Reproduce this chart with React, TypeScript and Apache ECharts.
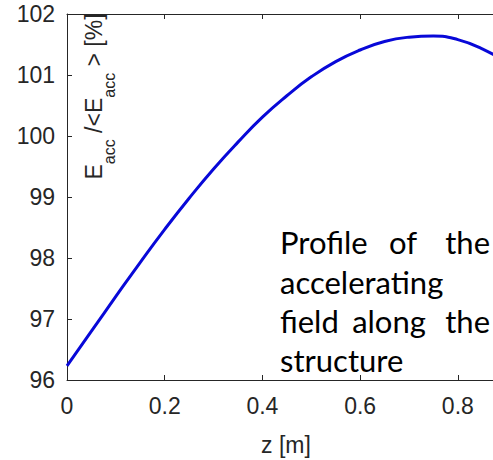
import React, { useEffect, useRef } from 'react';
import * as echarts from 'echarts';

// z position along the structure [m]
const zPositions = [0, 0.05, 0.1, 0.15, 0.2, 0.25, 0.3, 0.35, 0.4, 0.45, 0.5, 0.55, 0.6, 0.65, 0.7, 0.75, 0.8, 0.85, 0.9];
// Eacc / <Eacc> [%]
const fieldRatio = [96.23, 96.8, 97.37, 97.93, 98.47, 98.98, 99.46, 99.9, 100.31, 100.66, 100.97, 101.22, 101.41, 101.55, 101.62, 101.64, 101.58, 101.43, 101.2];

const xAxisMin = 0;
const xAxisMax = 0.872;
const xTickStep = 0.2;
const yAxisMin = 96;
const yAxisMax = 102;
const yTickStep = 1;

const xAxisTitle = 'z [m]';
const noteLines = [
  ['Profile', 'of', 'the'],
  ['accelerating'],
  ['field', 'along', 'the'],
  ['structure'],
];

export default function App() {
  const ref = useRef<HTMLDivElement>(null);
  useEffect(() => {
    const chart = echarts.init(ref.current!, null, { renderer: 'svg' });
    const axisColor = '#262626';
    const axisFont = "'Liberation Sans', Arial, sans-serif";
    const noteFont = "Lato, 'Open Sans', sans-serif";
    const noteBaseY = [242, 282, 320.5, 360];
    const middleCenters = [403, 0, 389, 0];
    const noteElements: any[] = [];
    noteLines.forEach((words, i) => {
      words.forEach((w, j) => {
        let x = 280;
        let align = 'left';
        if (words.length === 3 && j === 1) { x = middleCenters[i]; align = 'center'; }
        if (words.length === 3 && j === 2) { x = 490; align = 'right'; }
        noteElements.push({
          type: 'text',
          x,
          y: noteBaseY[i],
          style: { text: w, font: `31px ${noteFont}`, fill: '#000', align, verticalAlign: 'middle' },
        });
      });
    });

    chart.setOption({
      animation: false,
      backgroundColor: '#fff',
      grid: { left: 67, right: 0, top: 14, bottom: 80, containLabel: false },
      xAxis: [
        {
          type: 'value',
          min: xAxisMin,
          max: xAxisMax,
          interval: xTickStep,
          axisLine: { show: true, lineStyle: { color: axisColor, width: 1 } },
          axisTick: { show: true, inside: true, length: 5, lineStyle: { color: axisColor } },
          axisLabel: { show: true, showMaxLabel: false, margin: 14, color: axisColor, fontSize: 23, fontFamily: axisFont },
          splitLine: { show: false },
        },
        {
          type: 'value',
          position: 'top',
          min: xAxisMin,
          max: xAxisMax,
          interval: xTickStep,
          axisLine: { show: true, onZero: false, lineStyle: { color: axisColor, width: 1 } },
          axisTick: { show: true, inside: true, length: 5, lineStyle: { color: axisColor } },
          axisLabel: { show: false },
          splitLine: { show: false },
        },
      ],
      yAxis: {
        type: 'value',
        min: yAxisMin,
        max: yAxisMax,
        interval: yTickStep,
        axisLine: { show: true, lineStyle: { color: axisColor, width: 1 } },
        axisTick: { show: true, inside: true, length: 5, lineStyle: { color: axisColor } },
        axisLabel: { margin: 12, color: axisColor, fontSize: 23, fontFamily: axisFont },
        splitLine: { show: false },
      },
      series: [
        {
          type: 'line',
          xAxisIndex: 0,
          data: zPositions.map((z, i) => [z, fieldRatio[i]]),
          smooth: true,
          showSymbol: false,
          symbol: 'none',
          clip: true,
          lineStyle: { color: '#0808d8', width: 3 },
        },
      ],
      graphic: [
        {
          type: 'text',
          x: 286,
          y: 445,
          style: { text: xAxisTitle, font: `23px ${axisFont}`, fill: axisColor, align: 'center', verticalAlign: 'middle' },
        },
        {
          type: 'text',
          x: 94,
          y: 96.5,
          rotation: Math.PI / 2,
          style: {
            text: '{m|E}{s|acc}{m| /<E}{s|acc}{m| > [%]}',
            align: 'center',
            verticalAlign: 'middle',
            fill: axisColor,
            rich: {
              m: { fontSize: 23, fontFamily: axisFont, fill: axisColor, lineHeight: 23, verticalAlign: 'top' },
              s: { fontSize: 16, fontFamily: axisFont, fill: axisColor, lineHeight: 16, verticalAlign: 'top', padding: [19, 0, 0, 0] },
            },
          },
        },
        ...noteElements,
      ],
    });
    return () => chart.dispose();
  }, []);
  return <div ref={ref} style={{ position: 'absolute', left: 0, top: 0, width: 493, height: 460, background: '#fff' }} />;
}
